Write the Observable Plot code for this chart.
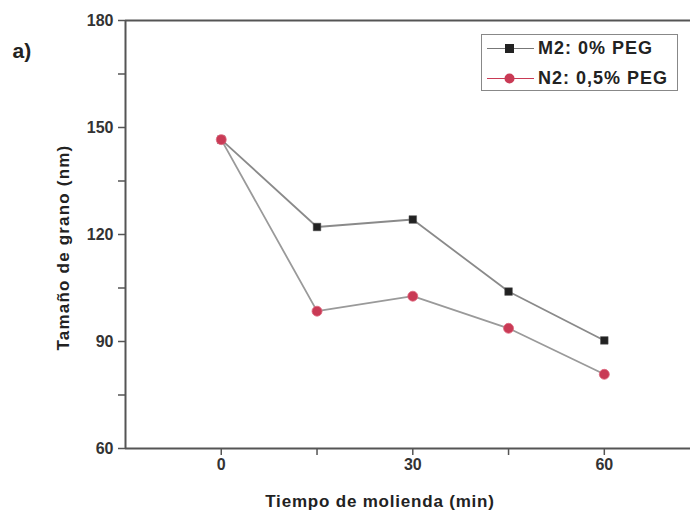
<!DOCTYPE html>
<html>
<head>
<meta charset="utf-8">
<script src="https://cdn.jsdelivr.net/npm/d3@7"></script>
<script src="https://cdn.jsdelivr.net/npm/@observablehq/plot@0.6"></script>
<style>
  html, body { margin: 0; padding: 0; background: #fff; }
  #wrap { position: relative; width: 690px; height: 517px; font-family: "Liberation Sans", Arial, sans-serif; }
  #legend { position: absolute; left: 481px; top: 34px; width: 197px; height: 57px; border: 1.5px solid #888; background: #fff; box-sizing: border-box; }
  .row { position: absolute; left: 4px; height: 20px; display: flex; align-items: center; font-weight: bold; font-size: 18px; letter-spacing: 1px; color: #222; white-space: nowrap; }
  .row svg { margin-right: 2px; }
</style>
</head>
<body>
<div id="wrap"></div>
<script>
const times = [0, 15, 30, 45, 60];
const m2Values = [146.6, 122.1, 124.2, 104.0, 90.3];
const n2Values = [146.6, 98.5, 102.7, 93.7, 80.8];
const seriesNames = ["M2: 0% PEG", "N2: 0,5% PEG"];
const yTicks = [60, 90, 120, 150, 180];
const yMinor = [75, 105, 135, 165];
const xTicks = [0, 30, 60];
const xMinor = [15, 45];

const m2 = times.map((t, i) => ({t, v: m2Values[i]}));
const n2 = times.map((t, i) => ({t, v: n2Values[i]}));

const axisStyle = {stroke: "#555", strokeWidth: 1.5, text: null, label: null, tickSize: 7};
const tickText = {fontSize: 16, fontWeight: "bold", fill: "#333"};

const plot = Plot.plot({
  width: 690,
  height: 517,
  marginLeft: 125,
  marginTop: 20,
  marginRight: 0,
  marginBottom: 69,
  style: {fontFamily: "Liberation Sans, Arial, sans-serif", fontSize: "15px", background: "#fff"},
  x: {type: "linear", domain: [-15, 73.5]},
  y: {type: "linear", domain: [60, 180]},
  marks: [
    Plot.axisX(xTicks, axisStyle),
    Plot.axisX(xMinor, axisStyle),
    Plot.axisY(yTicks, axisStyle),
    Plot.axisY(yMinor, axisStyle),
    Plot.text(xTicks, {x: d => d, frameAnchor: "bottom", lineAnchor: "middle", dy: 16, text: d => String(d), ...tickText}),
    Plot.text(yTicks, {y: d => d, frameAnchor: "left", textAnchor: "end", lineAnchor: "middle", dx: -12, text: d => String(d), ...tickText}),
    Plot.ruleY([60], {stroke: "#555", strokeWidth: 2}),
    Plot.ruleY([180], {stroke: "#555", strokeWidth: 2}),
    Plot.ruleX([-15], {stroke: "#555", strokeWidth: 2}),
    Plot.line(m2, {x: "t", y: "v", stroke: "#8a8a8a", strokeWidth: 1.8}),
    Plot.line(n2, {x: "t", y: "v", stroke: "#9a9a9a", strokeWidth: 1.8}),
    Plot.dot(m2, {x: "t", y: "v", symbol: "square", r: 4.3, fill: "#222", stroke: "#555", strokeWidth: 0.5}),
    Plot.dot(n2, {x: "t", y: "v", symbol: "circle", r: 5, fill: "#c93a55", stroke: "#e06a80", strokeWidth: 0.8}),
    Plot.text(["Tiempo de molienda (min)"], {frameAnchor: "bottom", dx: -28, dy: 58, fontSize: 17, fontWeight: "bold", fill: "#222"}),
    Plot.text(["Tamaño de grano (nm)"], {frameAnchor: "left", textAnchor: "middle", rotate: -90, dx: -62, dy: 13, fontSize: 17, fontWeight: "bold", fill: "#222"}),
    Plot.text(["a)"], {frameAnchor: "top-left", dx: -113, dy: 23, fontSize: 21, fontWeight: "bold", fill: "#222"})
  ]
});

const wrap = document.getElementById("wrap");
wrap.appendChild(plot);
// widen axis titles (letter spacing, as in the reference's wide bold face)
plot.querySelectorAll("text").forEach(t => {
  if (t.textContent === "Tiempo de molienda (min)") t.setAttribute("letter-spacing", "0.8");
  if (t.textContent === "Tamaño de grano (nm)") t.setAttribute("letter-spacing", "1.2");
});

// Legend (HTML overlay)
const legend = document.createElement("div");
legend.id = "legend";
const swatches = [
  {name: seriesNames[0], line: "#777", fill: "#222", shape: "square"},
  {name: seriesNames[1], line: "#c93a55", fill: "#c93a55", shape: "circle"}
];
swatches.forEach((s, i) => {
  const row = document.createElement("div");
  row.className = "row";
  row.style.top = (i === 0 ? 3 : 33) + "px";
  const shape = s.shape === "square"
    ? `<rect x="19" y="5" width="9" height="9" fill="${s.fill}"/>`
    : `<circle cx="23.5" cy="9.5" r="5" fill="${s.fill}"/>`;
  row.innerHTML = `<svg width="50" height="19"><line x1="1" x2="48" y1="9.5" y2="9.5" stroke="${s.line}" stroke-width="1.2"/>${shape}</svg><span>${s.name}</span>`;
  legend.appendChild(row);
});
wrap.appendChild(legend);
</script>
</body>
</html>
